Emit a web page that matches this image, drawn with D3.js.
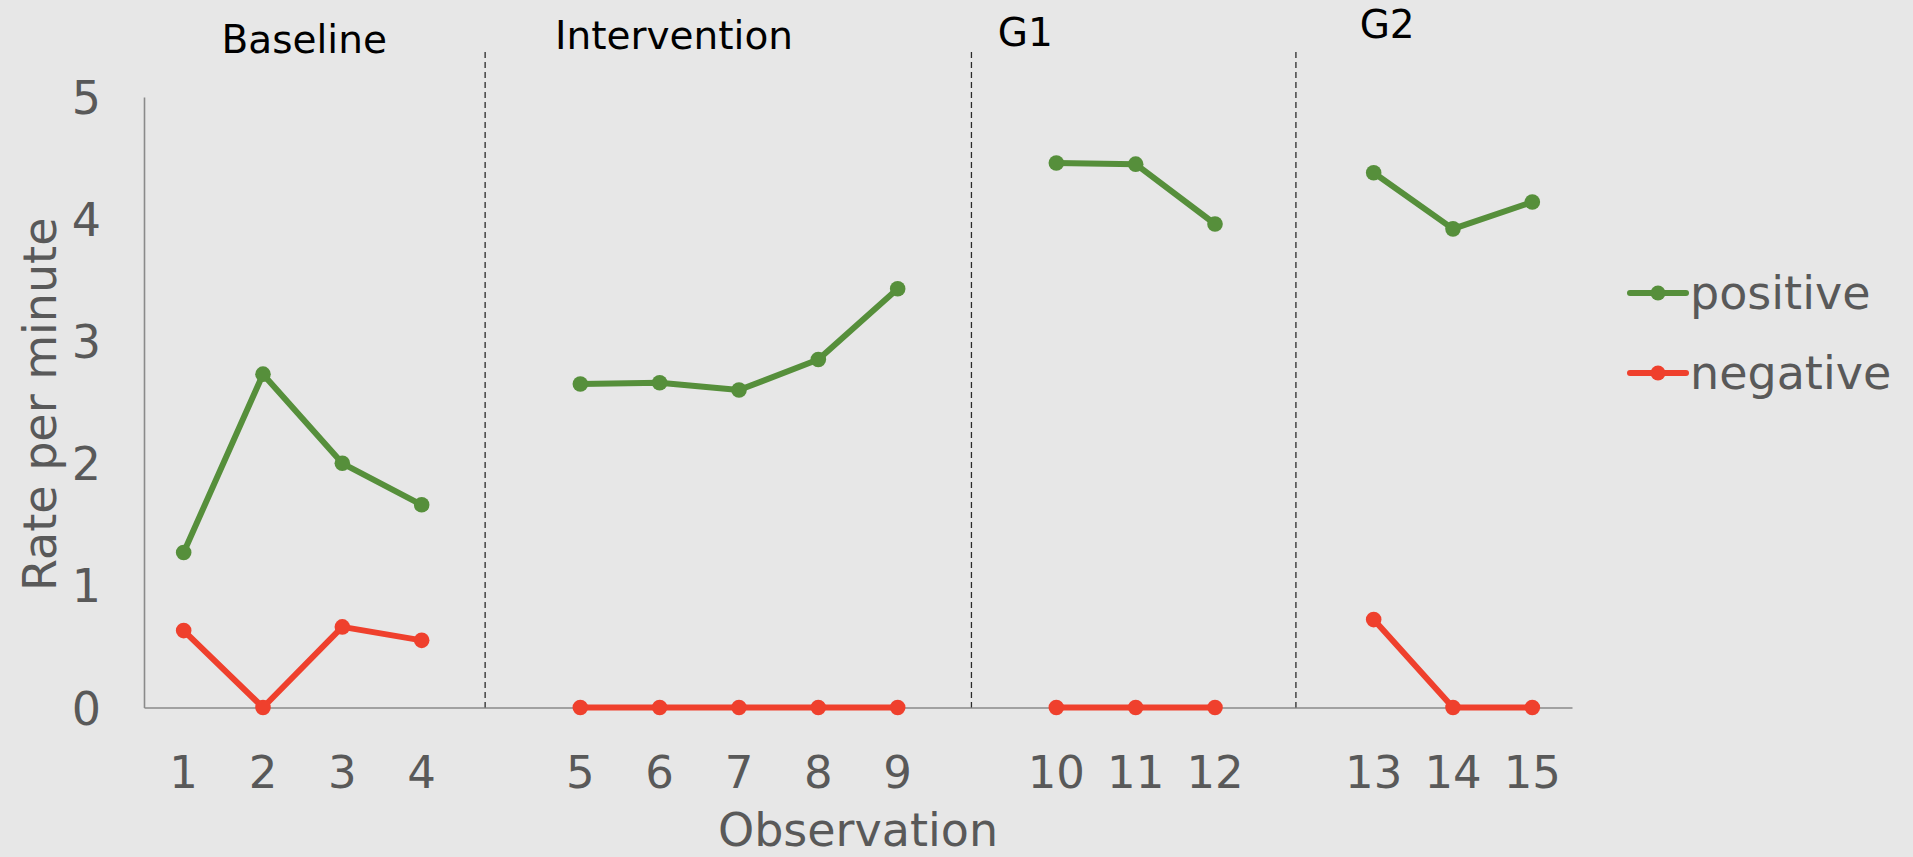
<!DOCTYPE html>
<html>
<head>
<meta charset="utf-8">
<script src="https://cdn.jsdelivr.net/npm/d3@7/dist/d3.min.js"></script>
<style>
  html, body { margin: 0; padding: 0; background: #e7e7e7; overflow: hidden; }
  svg { display: block; }
  text { font-family: "DejaVu Sans", sans-serif; }
</style>
</head>
<body>
<svg id="chart" width="1913" height="857"></svg>
<script>
// Observation numbers, grouped by phase
const phaseNames = ["Baseline", "Intervention", "G1", "G2"];
const phaseSizes = [4, 5, 3, 3];
const observations = [1, 2, 3, 4, 5, 6, 7, 8, 9, 10, 11, 12, 13, 14, 15];

// Rate per minute for each observation
const positive = [1.27, 2.73, 2.00, 1.66, 2.65, 2.66, 2.60, 2.85, 3.43, 4.46, 4.45, 3.96, 4.38, 3.92, 4.14];
const negative = [0.63, 0.00, 0.66, 0.55, 0.00, 0.00, 0.00, 0.00, 0.00, 0.00, 0.00, 0.00, 0.72, 0.00, 0.00];

const yTicks = [0, 1, 2, 3, 4, 5];
const seriesNames = ["positive", "negative"];

// Phase-change lines, in category-slot units along the x axis
const phaseBreaks = [4.3, 10.43, 14.52];

// ---- layout ----
const svg = d3.select("#chart");
const W = 1913, H = 857;
const plot = { left: 144, right: 1572, top: 97, bottom: 707.5 };
const colors = { positive: "#568f3b", negative: "#ef402d" };
const axisGray = "#8a8a8a";
const textGray = "#595959";

svg.append("rect").attr("width", W).attr("height", H).attr("fill", "#e7e7e7");

// One category slot per observation plus an empty slot between phases
const slots = [];
let obsIdx = 0;
phaseSizes.forEach((n, p) => {
  for (let i = 0; i < n; i++) {
    slots.push({ key: "o" + observations[obsIdx], label: String(observations[obsIdx]), phase: p, i: obsIdx });
    obsIdx++;
  }
  if (p < phaseSizes.length - 1) slots.push({ key: "gap" + p, label: "", phase: p, i: -1 });
});

const x = d3.scaleBand()
  .domain(slots.map(d => d.key))
  .range([plot.left, plot.right])
  .padding(0);
const slotX = d3.scaleLinear().domain([0, slots.length]).range([plot.left, plot.right]);
const y = d3.scaleLinear().domain([0, 5]).range([plot.bottom, plot.top]);

const points = slots.filter(d => d.i >= 0).map(d => ({
  key: d.key, phase: d.phase,
  positive: positive[d.i], negative: negative[d.i]
}));
const cx = d => x(d.key) + x.bandwidth() / 2;

// ---- axes ----
const yAxis = d3.axisLeft(y).tickValues(yTicks).tickSize(0).tickPadding(0).tickFormat(d3.format("d"));
const gy = svg.append("g").attr("transform", `translate(${plot.left},0)`).call(yAxis);
gy.select(".domain").attr("stroke", axisGray).attr("stroke-width", 1.6);
gy.selectAll(".tick text")
  .attr("x", 101 - plot.left)
  .attr("dy", "0.36em")
  .attr("text-anchor", "end")
  .attr("fill", textGray)
  .style("font-size", "46px")
  .style("font-family", "'DejaVu Sans', sans-serif");

const xAxis = d3.axisBottom(x).tickSize(0).tickPadding(0)
  .tickFormat(k => slots.find(s => s.key === k).label);
const gx = svg.append("g").attr("transform", `translate(0,${plot.bottom})`).call(xAxis);
gx.select(".domain").attr("stroke", axisGray).attr("stroke-width", 1.6);
gx.selectAll(".tick text")
  .attr("y", 80)
  .attr("dy", 0)
  .attr("fill", textGray)
  .style("font-size", "45px")
  .style("font-family", "'DejaVu Sans', sans-serif");

// axis titles
svg.append("text")
  .attr("x", (plot.left + plot.right) / 2)
  .attr("y", 846)
  .attr("text-anchor", "middle")
  .attr("fill", textGray)
  .style("font-size", "46px")
  .text("Observation");

svg.append("text")
  .attr("transform", `translate(56,${(plot.top + plot.bottom) / 2 + 2}) rotate(-90)`)
  .attr("text-anchor", "middle")
  .attr("fill", textGray)
  .style("font-size", "46px")
  .text("Rate per minute");

// ---- phase-change lines and labels ----
svg.append("g").selectAll("line")
  .data(phaseBreaks)
  .join("line")
  .attr("x1", d => slotX(d)).attr("x2", d => slotX(d))
  .attr("y1", 52).attr("y2", plot.bottom)
  .attr("stroke", "#2b2b2b")
  .attr("stroke-width", 1.3)
  .attr("stroke-dasharray", "6,4");

const phaseLabelLayout = [
  { slot: 2.02, baseline: 53 },
  { slot: 6.68, baseline: 49 },
  { slot: 11.11, baseline: 46 },
  { slot: 15.67, baseline: 38 }
];
svg.append("g").selectAll("text")
  .data(phaseNames)
  .join("text")
  .attr("x", (d, i) => slotX(phaseLabelLayout[i].slot))
  .attr("y", (d, i) => phaseLabelLayout[i].baseline)
  .attr("text-anchor", "middle")
  .attr("fill", "#000")
  .style("font-size", "39px")
  .text(d => d);

// ---- series ----
const seriesG = svg.append("g");
seriesNames.forEach(name => {
  const line = d3.line().x(cx).y(d => y(d[name]));
  const g = seriesG.append("g");
  d3.range(phaseNames.length).forEach(p => {
    const seg = points.filter(d => d.phase === p);
    g.append("path")
      .datum(seg)
      .attr("d", line)
      .attr("fill", "none")
      .attr("stroke", colors[name])
      .attr("stroke-width", 6)
      .attr("stroke-linejoin", "round")
      .attr("stroke-linecap", "round");
  });
  g.selectAll("circle")
    .data(points)
    .join("circle")
    .attr("cx", cx)
    .attr("cy", d => y(d[name]))
    .attr("r", 7.8)
    .attr("fill", colors[name]);
});

// ---- legend ----
const legend = svg.append("g").attr("transform", "translate(1630,0)");
const legendRows = [293, 373];
seriesNames.forEach((name, i) => {
  const row = legend.append("g").attr("transform", `translate(0,${legendRows[i]})`);
  row.append("line")
    .attr("x1", 0).attr("x2", 56).attr("y1", 0).attr("y2", 0)
    .attr("stroke", colors[name]).attr("stroke-width", 6).attr("stroke-linecap", "round");
  row.append("circle").attr("cx", 28).attr("cy", 0).attr("r", 7.5).attr("fill", colors[name]);
  row.append("text")
    .attr("x", 60).attr("y", 16)
    .attr("fill", textGray)
    .style("font-size", "46px")
    .text(name);
});
</script>
</body>
</html>
